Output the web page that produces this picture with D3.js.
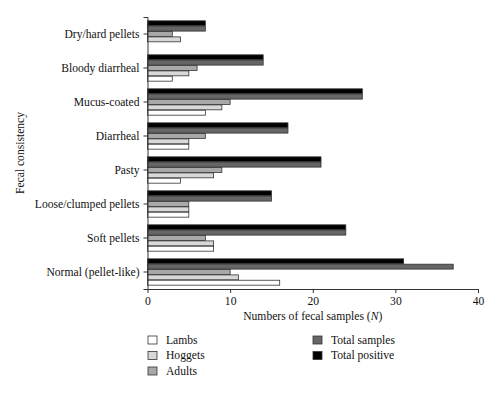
<!DOCTYPE html>
<html>
<head>
<meta charset="utf-8">
<script src="https://cdn.jsdelivr.net/npm/d3@7"></script>
<style>
  body { margin: 0; background: #fff; }
  svg text { font-family: "Liberation Serif", "DejaVu Serif", serif; fill: #111; }
</style>
</head>
<body>
<svg id="chart"></svg>
<script>
const categories = ["Dry/hard pellets", "Bloody diarrheal", "Mucus-coated", "Diarrheal",
    "Pasty", "Loose/clumped pellets", "Soft pellets", "Normal (pellet-like)"];
// bars drawn top to bottom within each group
const seriesNames = ["Total positive", "Total samples", "Adults", "Hoggets", "Lambs"];
const totalPositive = [7, 14, 26, 17, 21, 15, 24, 31];
const totalSamples  = [7, 14, 26, 17, 21, 15, 24, 37];
const adults        = [3, 6, 10, 7, 9, 5, 7, 10];
const hoggets       = [4, 5, 9, 5, 8, 5, 8, 11];
const lambs         = [0, 3, 7, 5, 4, 5, 8, 16];
const xTicks = [0, 10, 20, 30, 40];

const seriesValues = [totalPositive, totalSamples, adults, hoggets, lambs];
const colors = {
    "Lambs": "#ffffff", "Hoggets": "#d8d8d8", "Adults": "#a8a8a8",
    "Total samples": "#666666", "Total positive": "#000000"
};

const W = 500, H = 393;
const margin = { top: 17, right: 22, bottom: 104, left: 147.5 };
const width = W - margin.left - margin.right;
const height = H - margin.top - margin.bottom;
const fs = "11.6px";

const svg = d3.select("#chart").attr("width", W).attr("height", H);
const g = svg.append("g").attr("transform", `translate(${margin.left},${margin.top})`);

const x = d3.scaleLinear().domain([0, 40]).range([0, width]);
const y = d3.scaleBand().domain(categories).range([0, height]).paddingInner(0.2).paddingOuter(0.1);
const ySub = d3.scaleBand().domain(seriesNames).range([0, y.bandwidth()]).padding(0.08);

const rows = [];
categories.forEach((c, i) => {
    seriesNames.forEach((s, j) => rows.push({ category: c, series: s, value: seriesValues[j][i] }));
});

g.selectAll("rect.bar")
    .data(rows.filter(d => d.value > 0))
    .enter().append("rect")
    .attr("class", "bar")
    .attr("x", x(0))
    .attr("y", d => y(d.category) + ySub(d.series))
    .attr("width", d => x(d.value) - x(0))
    .attr("height", ySub.bandwidth())
    .attr("fill", d => colors[d.series])
    .attr("stroke", "#333")
    .attr("stroke-width", 0.8);

// y axis
const yAxis = g.append("g")
    .call(d3.axisLeft(y).tickSize(4).tickPadding(4));
yAxis.select(".domain").attr("stroke", "#333");
yAxis.selectAll(".tick line").attr("stroke", "#333");
yAxis.selectAll("text").style("font-size", fs).attr("fill", "#111");

// x axis
const xAxis = g.append("g")
    .attr("transform", `translate(0,${height})`)
    .call(d3.axisBottom(x).tickValues(xTicks).tickSize(4).tickSizeOuter(0).tickPadding(4));
xAxis.select(".domain").attr("stroke", "#333");
xAxis.selectAll(".tick line").attr("stroke", "#333");
xAxis.selectAll("text").style("font-size", fs).attr("fill", "#111");

// axis titles
const xt = svg.append("text")
    .attr("x", margin.left + width / 2)
    .attr("y", margin.top + height + 31)
    .attr("text-anchor", "middle")
    .style("font-size", fs);
xt.append("tspan").text("Numbers of fecal samples (");
xt.append("tspan").style("font-style", "italic").text("N");
xt.append("tspan").text(")");

svg.append("text")
    .attr("transform", `translate(24,${margin.top + height / 2}) rotate(-90)`)
    .attr("text-anchor", "middle")
    .style("font-size", fs)
    .text("Fecal consistency");

// legend
const legendItems = [
    { name: "Lambs", col: 0, row: 0 },
    { name: "Hoggets", col: 0, row: 1 },
    { name: "Adults", col: 0, row: 2 },
    { name: "Total samples", col: 1, row: 0 },
    { name: "Total positive", col: 1, row: 1 }
];
const legend = svg.append("g").attr("transform", "translate(148,336)");
const li = legend.selectAll("g")
    .data(legendItems)
    .enter().append("g")
    .attr("transform", d => `translate(${d.col * 165},${d.row * 15.5})`);
li.append("rect")
    .attr("width", 9).attr("height", 8)
    .attr("fill", d => colors[d.name])
    .attr("stroke", "#333").attr("stroke-width", 0.8);
li.append("text")
    .attr("x", 18).attr("y", 7.5)
    .style("font-size", fs)
    .text(d => d.name);
</script>
</body>
</html>
